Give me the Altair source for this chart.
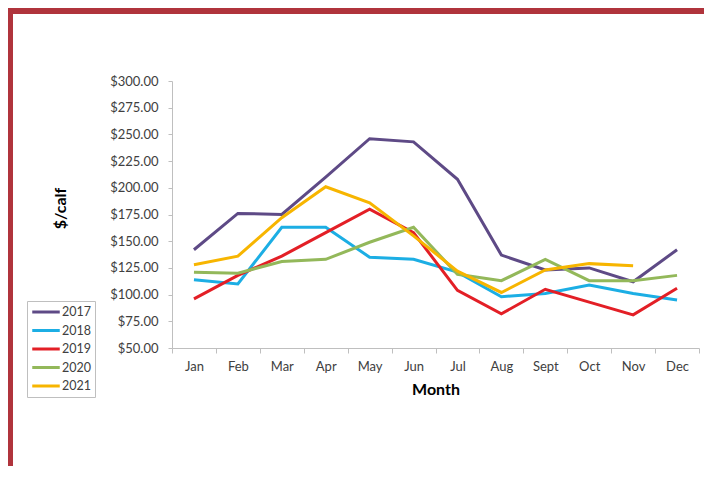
import altair as alt
import pandas as pd

months = ["Jan", "Feb", "Mar", "Apr", "May", "Jun", "Jul", "Aug", "Sept", "Oct", "Nov", "Dec"]
years = ["2017", "2018", "2019", "2020", "2021"]
y2017 = [142, 176, 175, 210, 246, 243, 208, 137, 123, 125, 112, 142]
y2018 = [114, 110, 163, 163, 135, 133, 121, 98, 101, 109, 101, 95]
y2019 = [96, 118, 136, 158, 180, 158, 104, 82, 105, 93, 81, 106]
y2020 = [121, 120, 131, 133, 149, 163, 119, 113, 133, 113, 113, 118]
y2021 = [128, 136, 172, 201, 186, 155, 122, 102, 123, 129, 127, None]
colors = ["#5E4A86", "#1CAEE4", "#E31F26", "#93B85A", "#F7B500"]
y_ticks = [50, 75, 100, 125, 150, 175, 200, 225, 250, 275, 300]

series = [y2017, y2018, y2019, y2020, y2021]
rows = []
for yr, vals in zip(years, series):
    for i, (m, v) in enumerate(zip(months, vals)):
        if v is not None:
            rows.append({"Year": yr, "Month": m, "Value": v, "idx": i})
df = pd.DataFrame(rows)

FONT = "Lato"
BORDER = "#B0343C"

lines = alt.Chart(df).mark_line(strokeWidth=3).encode(
    x=alt.X("Month:N", sort=months,
            scale=alt.Scale(type="band", paddingInner=0, paddingOuter=0),
            axis=alt.Axis(title="Month", labelAngle=0, tickBand="extent", grid=False,
                          domainColor="#BFBFBF", tickColor="#BFBFBF", tickSize=5,
                          labelFont=FONT, labelFontSize=13, labelColor="#404040",
                          labelPadding=7, titleFont=FONT, titleFontSize=16,
                          titleFontWeight="bold", titleColor="#000000",
                          titleBaseline="alphabetic", titleY=46)),
    y=alt.Y("Value:Q", scale=alt.Scale(domain=[50, 300], nice=False, zero=False),
            axis=alt.Axis(title="$/calf", values=y_ticks, format="$.2f", grid=False,
                          domainColor="#BFBFBF", tickColor="#BFBFBF", tickSize=4,
                          labelFont=FONT, labelFontSize=13, labelColor="#404040",
                          labelPadding=10, titleFont=FONT, titleFontSize=16,
                          titleFontWeight="bold", titleColor="#000000",
                          titleX=-112, titleY=127, titleAlign="center",
                          titleBaseline="middle")),
    color=alt.Color("Year:N", scale=alt.Scale(domain=years, range=colors),
                    legend=alt.Legend(title=None, orient="none", legendX=-145, legendY=220,
                                      symbolType="M-2.5,0H2.5", symbolSize=121,
                                      symbolStrokeWidth=3, labelFont=FONT,
                                      labelFontSize=12.5, labelColor="#404040",
                                      strokeColor="#BFBFBF", padding=4, rowPadding=4.5,
                                      labelOffset=9, symbolOffset=8)),
    order=alt.Order("idx:Q"),
)

frame = pd.DataFrame({"k": [0]})
top_bar = alt.Chart(frame).mark_rule(color=BORDER, strokeWidth=6).encode(
    x=alt.value(-170), x2=alt.value(540), y=alt.value(-70))
left_bar = alt.Chart(frame).mark_rule(color=BORDER, strokeWidth=5).encode(
    x=alt.value(-161.5), y=alt.value(-73), y2=alt.value(420))

chart = alt.layer(top_bar, left_bar, lines).properties(
    width=527, height=267,
    autosize=alt.AutoSizeParams(type="none"),
    padding={"left": 164, "top": 73, "right": 5, "bottom": 118},
).configure_view(stroke=None)

chart.save("out.html", embed_options={"renderer": "svg", "actions": False})
